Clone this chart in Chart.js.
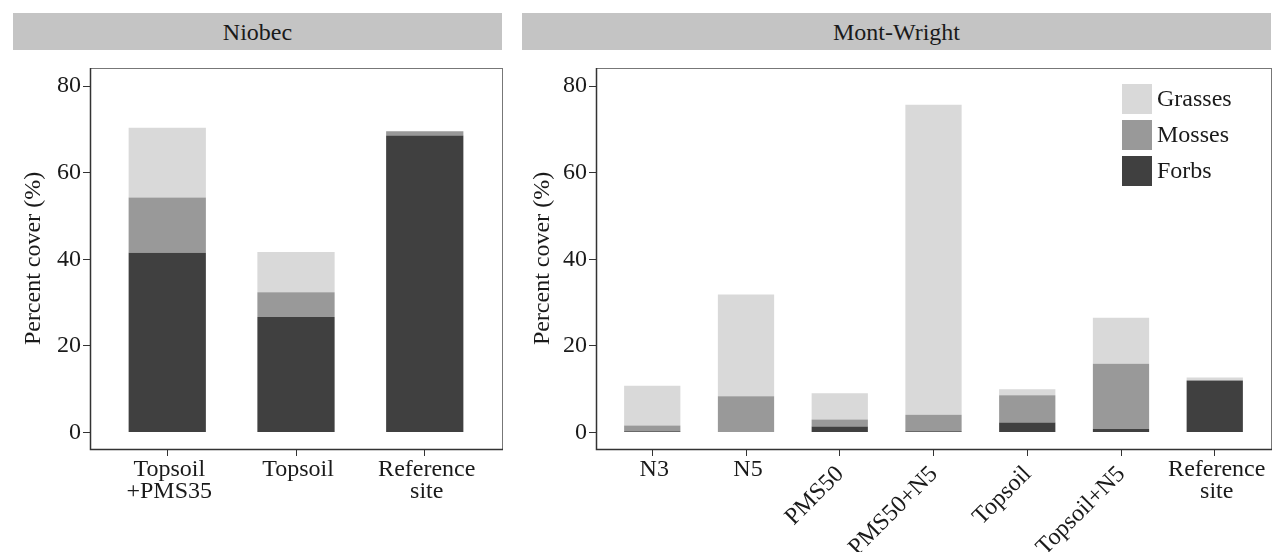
<!DOCTYPE html>
<html>
<head>
<meta charset="utf-8">
<script src="https://cdn.jsdelivr.net/npm/chart.js@4.4.0/dist/chart.umd.min.js"></script>
<style>
body { margin:0; background:#fff; width:1273px; height:552px; position:relative; overflow:hidden; font-family:'Liberation Serif', serif; }
.strip { position:absolute; top:13px; height:37px; background:#c4c4c4; color:#1a1a1a; font-size:24px; line-height:39px; text-align:center; }
canvas { position:absolute; top:0; }
</style>
</head>
<body>
<div class="strip" style="left:13px;width:489px">Niobec</div>
<div class="strip" style="left:522px;width:749px">Mont-Wright</div>
<canvas id="niobec" width="512" height="552" style="left:0"></canvas>
<canvas id="montWright" width="761" height="552" style="left:512px"></canvas>
<script>
// Niobec site
const niobecSites = ['Topsoil\n+PMS35', 'Topsoil', 'Reference\nsite'];
const niobecForbs = [41.5, 26.7, 68.6];
const niobecMosses = [12.8, 5.7, 1.0];
const niobecGrasses = [16.1, 9.3, 0];

// Mont-Wright site
const mwSites = ['N3', 'N5', 'PMS50', 'PMS50+N5', 'Topsoil', 'Topsoil+N5', 'Reference\nsite'];
const mwForbs = [0.3, 0, 1.4, 0.3, 2.3, 0.8, 12.0];
const mwMosses = [1.3, 8.4, 1.6, 3.8, 6.3, 15.1, 0];
const mwGrasses = [9.2, 23.5, 6.1, 71.6, 1.4, 10.6, 0.7];

const yTicks = [0, 20, 40, 60, 80];
const groupColors = {Forbs: '#404040', Mosses: '#999999', Grasses: '#d9d9d9'};

const FONT = "'Liberation Serif', 'Times New Roman', serif";
const FSIZE = 24;
Chart.defaults.font.family = FONT;
Chart.defaults.color = '#1a1a1a';

// x labels drawn by hand so some can be rotated
const siteLabels = {
    id: 'siteLabels',
    afterDraw(chart, args, opts) {
        const ctx = chart.ctx;
        const xs = chart.scales.x;
        const base = chart.chartArea.bottom;
        ctx.save();
        ctx.font = FSIZE + 'px ' + FONT;
        ctx.fillStyle = '#1a1a1a';
        opts.labels.forEach((lab, i) => {
            const x = xs.getPixelForValue(i + 1);
            if (opts.angles && opts.angles[i]) {
                ctx.save();
                ctx.translate(x - 8, base + 13);
                ctx.rotate(-Math.PI / 4);
                ctx.textAlign = 'right';
                ctx.textBaseline = 'top';
                ctx.fillText(lab, 0, 0);
                ctx.restore();
            } else {
                ctx.textAlign = 'center';
                ctx.textBaseline = 'alphabetic';
                lab.split('\n').forEach((line, k) => ctx.fillText(line, x + 2, base + 27 + k * 22));
            }
        });
        ctx.restore();
    }
};

// panel border: grey top/right, dark axis lines
const panelBox = {
    id: 'panelBox',
    afterDatasetsDraw(chart) {
        const {ctx, chartArea: a} = chart;
        ctx.save();
        ctx.strokeStyle = '#777';
        ctx.lineWidth = 1;
        ctx.strokeRect(Math.round(a.left) + 0.5, Math.round(a.top) + 0.5,
            Math.round(a.right - a.left), Math.round(a.bottom - a.top));
        ctx.strokeStyle = '#333';
        ctx.lineWidth = 1.5;
        ctx.beginPath();
        ctx.moveTo(Math.round(a.left) + 0.5, Math.round(a.top));
        ctx.lineTo(Math.round(a.left) + 0.5, Math.round(a.bottom) + 0.5);
        ctx.lineTo(Math.round(a.right) + 1, Math.round(a.bottom) + 0.5);
        ctx.stroke();
        ctx.restore();
    }
};

// legend inside the Mont-Wright panel
const boxLegend = {
    id: 'boxLegend',
    afterDraw(chart, args, opts) {
        if (!opts.show) return;
        const ctx = chart.ctx;
        const items = chart.data.datasets.slice().reverse();
        ctx.save();
        ctx.font = FSIZE + 'px ' + FONT;
        ctx.textBaseline = 'middle';
        ctx.textAlign = 'left';
        items.forEach((ds, k) => {
            const y = opts.y + k * 36;
            ctx.fillStyle = ds.backgroundColor;
            ctx.fillRect(opts.x, y, 30, 30);
            ctx.fillStyle = '#1a1a1a';
            ctx.fillText(ds.label, opts.x + 35, y + 16);
        });
        ctx.restore();
    }
};

function makePanel(canvasId, sites, forbs, mosses, grasses, cfg) {
    const pts = (vals) => vals.map((v, i) => ({x: i + 1, y: v}));
    return new Chart(document.getElementById(canvasId), {
        type: 'bar',
        data: {
            datasets: [
                {label: 'Forbs', data: pts(forbs), backgroundColor: groupColors.Forbs},
                {label: 'Mosses', data: pts(mosses), backgroundColor: groupColors.Mosses},
                {label: 'Grasses', data: pts(grasses), backgroundColor: groupColors.Grasses}
            ]
        },
        options: {
            responsive: false,
            animation: false,
            devicePixelRatio: 1,
            layout: {padding: {top: 68, right: cfg.padRight, left: 0, bottom: 0}},
            datasets: {bar: {barPercentage: 0.6, categoryPercentage: 1, borderWidth: 0}},
            plugins: {
                legend: {display: false},
                tooltip: {enabled: false},
                siteLabels: {labels: sites, angles: cfg.angles},
                boxLegend: {show: cfg.legend, x: 610, y: 84}
            },
            scales: {
                x: {
                    type: 'linear',
                    stacked: true,
                    offset: false,
                    min: 0.4,
                    max: sites.length + 0.6,
                    afterBuildTicks: (s) => { s.ticks = sites.map((_, i) => ({value: i + 1})); },
                    afterFit: (s) => { s.height = 103; },
                    ticks: {display: false},
                    grid: {offset: false, drawOnChartArea: false, drawTicks: true, tickLength: 7, color: '#333'},
                    border: {display: false}
                },
                y: {
                    stacked: true,
                    min: -3.8,
                    max: 84.2,
                    afterBuildTicks: (s) => { s.ticks = yTicks.map(v => ({value: v})); },
                    afterFit: (s) => { s.width = cfg.axisWidth; },
                    ticks: {font: {size: FSIZE}, color: '#1a1a1a', padding: 2},
                    grid: {drawOnChartArea: false, drawTicks: true, tickLength: 7, color: '#333'},
                    border: {display: false},
                    title: {display: true, text: 'Percent cover (%)', font: {size: FSIZE}, color: '#1a1a1a',
                        padding: {top: cfg.titlePad, bottom: 0}}
                }
            }
        },
        plugins: [panelBox, siteLabels, boxLegend]
    });
}

makePanel('niobec', niobecSites, niobecForbs, niobecMosses, niobecGrasses,
    {padRight: 10, axisWidth: 90, titlePad: 19, angles: null, legend: false});
makePanel('montWright', mwSites, mwForbs, mwMosses, mwGrasses,
    {padRight: 2, axisWidth: 84, titlePad: 16, angles: [0, 0, 1, 1, 1, 1, 0], legend: true});
</script>
</body>
</html>
